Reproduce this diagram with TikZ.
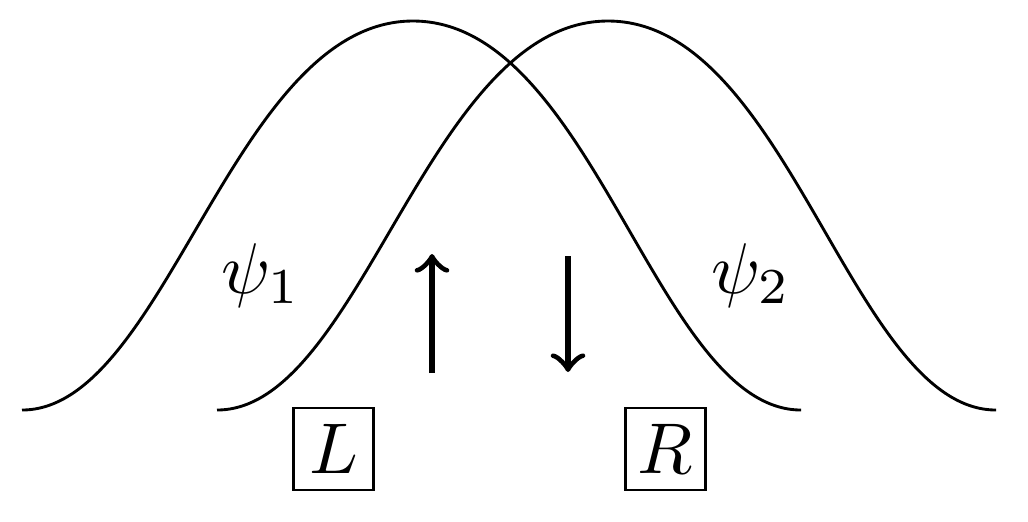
\documentclass[tikz,border=0pt]{standalone}
\usepackage{tikz}

\begin{document}
\begin{tikzpicture}[x=0.489cm, y=0.489cm, thin,
        site/.style={draw, inner sep=1pt, minimum width=11.2pt, minimum height=11.4pt}]
        \useasboundingbox (0,0) rectangle (10.28,5.21);

        % the two wavefunctions
        \draw (0.22,1.11) .. controls (1.66,1.11) and (2.33,5.00) .. (4.13,5.00)
              .. controls (5.93,5.00) and (6.57,1.11) .. (8.01,1.11);
        \draw (2.17,1.11) .. controls (3.61,1.11) and (4.28,5.00) .. (6.08,5.00)
              .. controls (7.88,5.00) and (8.52,1.11) .. (9.96,1.11);

        \node[anchor=base] (psi1) at (2.61,2.28) {$\psi_1$};
        \node[anchor=base] (psi2) at (7.51,2.28) {$\psi_2$};

        \node[site] (L) at (3.335,0.72) {$L$};
        \node[site] (R) at (6.655,0.72) {$R$};

        \coordinate (up1) at (4.32,1.48);
        \coordinate (up2) at (4.32,2.67);
        \coordinate (dn1) at (5.68,2.65);
        \coordinate (dn2) at (5.68,1.49);
        \draw[->, thick] (up1) -- (up2);
        \draw[->, thick] (dn1) -- (dn2);

    \end{tikzpicture}
\end{document}
